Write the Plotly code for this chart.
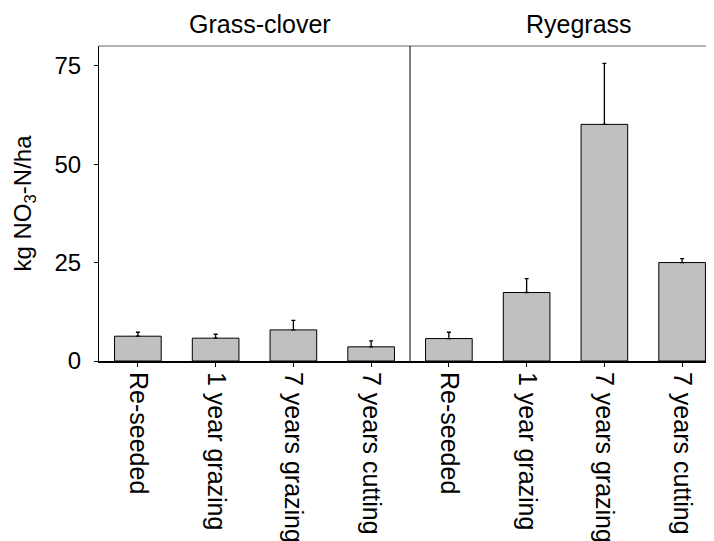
import plotly.graph_objects as go

categories = ["Re-seeded", "1 year grazing", "7 years grazing", "7 years cutting"]
panels = ["Grass-clover", "Ryegrass"]
grass_clover_mean = [6.3, 5.8, 7.9, 3.6]
grass_clover_se = [1.0, 1.0, 2.4, 1.5]
ryegrass_mean = [5.7, 17.4, 60.1, 25.0]
ryegrass_se = [1.6, 3.5, 15.5, 1.0]
y_ticks = [0, 25, 50, 75]

FONT = "Arial, Liberation Sans, sans-serif"
OFF = 8  # default page body margin
W, H = 714 - OFF, 541 - OFF
L, T = 99 - OFF, 46 - OFF
B = H - (361 - OFF)
plot_w = W - L
plot_h = H - T - B
split = (410 - 99) / plot_w
cat_px = (410 - 99) / 4.0
x2_max = 3.5 - (721 - 714) / cat_px

fig = go.Figure()
for vals, errs, xa in [(grass_clover_mean, grass_clover_se, "x"),
                       (ryegrass_mean, ryegrass_se, "x2")]:
    fig.add_trace(go.Bar(
        x=categories, y=vals, xaxis=xa, yaxis="y", width=0.6,
        marker=dict(color="#c0c0c0", line=dict(color="black", width=1)),
        error_y=dict(type="data", array=errs, arrayminus=[0] * len(errs),
                     symmetric=False, color="black", thickness=1.3, width=2),
        showlegend=False,
    ))

axis_common = dict(
    type="category", categoryorder="array", categoryarray=categories,
    tickangle=90, ticks="outside", ticklen=4, tickcolor="black",
    tickfont=dict(family=FONT, size=25, color="black"),
    showline=True, linecolor="black", linewidth=2,
    showgrid=False, zeroline=False, anchor="y", automargin=False,
)
fig.update_layout(
    width=W, height=H,
    margin=dict(l=L, r=0, t=T, b=B, pad=0, autoexpand=False),
    paper_bgcolor="white", plot_bgcolor="white",
    bargap=0.4,
    xaxis=dict(domain=[0, split], range=[-0.5, 3.5], **axis_common),
    xaxis2=dict(domain=[split, 1], range=[-0.5, x2_max], **axis_common),
    yaxis=dict(
        range=[0, 80], tickvals=y_ticks, ticks="outside", ticklen=4,
        tickcolor="black", ticklabelstandoff=8, automargin=False,
        tickfont=dict(family=FONT, size=24, color="black"),
        showline=True, linecolor="black", linewidth=1,
        showgrid=False, zeroline=False,
        title=dict(text="kg NO<sub>3</sub>-N/ha",
                   font=dict(family=FONT, size=24, color="black"), standoff=16),
    ),
    shapes=[
        dict(type="line", xref="paper", yref="paper", x0=0, x1=1, y0=1, y1=1,
             line=dict(color="#666666", width=1)),
        dict(type="line", xref="paper", yref="paper", x0=split, x1=split, y0=0, y1=1,
             line=dict(color="black", width=1)),
    ],
    annotations=[
        dict(text=panels[0], xref="paper", yref="paper",
             x=(260 - 99) / plot_w, y=1 + 22 / plot_h, xanchor="center",
             yanchor="middle", showarrow=False,
             font=dict(family=FONT, size=25, color="black")),
        dict(text=panels[1], xref="paper", yref="paper",
             x=(579 - 99) / plot_w, y=1 + 22 / plot_h, xanchor="center",
             yanchor="middle", showarrow=False,
             font=dict(family=FONT, size=25, color="black")),
    ],
)

fig.write_html("out.html")
